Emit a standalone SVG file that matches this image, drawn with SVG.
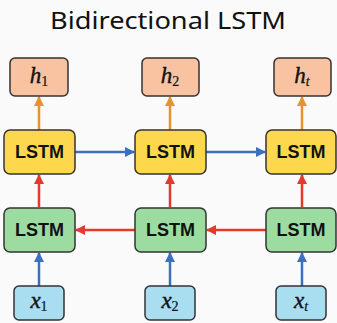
<svg xmlns="http://www.w3.org/2000/svg" width="337" height="323" viewBox="0 0 337 323">
<style>
.out{fill:#F9C3A2;stroke:#333;stroke-width:1.5}
.fw{fill:#FDD84E;stroke:#333;stroke-width:1.5}
.bw{fill:#9CDCA0;stroke:#333;stroke-width:1.5}
.in{fill:#A9DDF0;stroke:#333;stroke-width:1.5}
.lstm{font-family:"Liberation Sans",Arial,sans-serif;font-weight:bold;font-size:18px;fill:#111;text-anchor:middle}
.math{font-family:"Liberation Serif","Times New Roman",serif;font-style:italic;font-size:23px;fill:#111;stroke:#111;stroke-width:0.4;text-anchor:middle}
.sub{font-size:14px;font-style:normal;stroke-width:0.2}
.subi{font-size:14px;font-style:italic;stroke-width:0.2}
.title{font-family:"Noto Sans","Open Sans",sans-serif;font-size:23px;fill:#111;text-anchor:middle}
.ao{stroke:#E8922C;stroke-width:2.5;fill:none}
.ab{stroke:#3B70BE;stroke-width:2.5;fill:none}
.ar{stroke:#E33A2C;stroke-width:2.5;fill:none}
</style>
<defs>
<marker id="mo" viewBox="0 0 10 10" refX="9" refY="5" markerWidth="4" markerHeight="4" orient="auto"><path d="M0,0 L10,5 L0,10 z" fill="#E8922C"/></marker>
<marker id="mb" viewBox="0 0 10 10" refX="9" refY="5" markerWidth="4" markerHeight="4" orient="auto"><path d="M0,0 L10,5 L0,10 z" fill="#3B70BE"/></marker>
<marker id="mr" viewBox="0 0 10 10" refX="9" refY="5" markerWidth="4" markerHeight="4" orient="auto"><path d="M0,0 L10,5 L0,10 z" fill="#E33A2C"/></marker>
</defs>
<rect width="337" height="323" fill="#FAFAFA"/>
<text class="title" x="168" y="29" textLength="236" lengthAdjust="spacingAndGlyphs">Bidirectional LSTM</text>
<g id="connectors">
<line class="ao" x1="39" y1="130" x2="39" y2="97" marker-end="url(#mo)"/>
<line class="ao" x1="170" y1="130" x2="170" y2="97" marker-end="url(#mo)"/>
<line class="ao" x1="302" y1="130" x2="302" y2="97" marker-end="url(#mo)"/>
<line class="ab" x1="75" y1="152" x2="134" y2="152" marker-end="url(#mb)"/>
<line class="ab" x1="206" y1="152" x2="265" y2="152" marker-end="url(#mb)"/>
<line class="ar" x1="39" y1="207" x2="39" y2="175" marker-end="url(#mr)"/>
<line class="ar" x1="170" y1="207" x2="170" y2="175" marker-end="url(#mr)"/>
<line class="ar" x1="302" y1="207" x2="302" y2="175" marker-end="url(#mr)"/>
<line class="ar" x1="135" y1="230" x2="76" y2="230" marker-end="url(#mr)"/>
<line class="ar" x1="266" y1="230" x2="207" y2="230" marker-end="url(#mr)"/>
<line class="ab" x1="39" y1="286" x2="39" y2="253" marker-end="url(#mb)"/>
<line class="ab" x1="170" y1="286" x2="170" y2="253" marker-end="url(#mb)"/>
<line class="ab" x1="302" y1="286" x2="302" y2="253" marker-end="url(#mb)"/>
</g>
<g id="h1"><rect class="out" x="10" y="58" width="58" height="38" rx="5"/><text class="math" x="39" y="83">h<tspan class="sub" dy="3">1</tspan></text></g>
<g id="h2"><rect class="out" x="142" y="58" width="57" height="38" rx="5"/><text class="math" x="170" y="83">h<tspan class="sub" dy="3">2</tspan></text></g>
<g id="ht"><rect class="out" x="274" y="58" width="57" height="38" rx="5"/><text class="math" x="302" y="83">h<tspan class="subi" dy="3">t</tspan></text></g>
<g id="f1"><rect class="fw" x="4" y="130" width="71" height="44" rx="6"/><text class="lstm" x="39.5" y="158">LSTM</text></g>
<g id="f2"><rect class="fw" x="135" y="130" width="71" height="44" rx="6"/><text class="lstm" x="170.5" y="158">LSTM</text></g>
<g id="f3"><rect class="fw" x="266" y="130" width="70" height="44" rx="6"/><text class="lstm" x="301" y="158">LSTM</text></g>
<g id="b1"><rect class="bw" x="4" y="208" width="71" height="44" rx="6"/><text class="lstm" x="39.5" y="236">LSTM</text></g>
<g id="b2"><rect class="bw" x="135" y="208" width="71" height="44" rx="6"/><text class="lstm" x="170.5" y="236">LSTM</text></g>
<g id="b3"><rect class="bw" x="266" y="208" width="70" height="44" rx="6"/><text class="lstm" x="301" y="236">LSTM</text></g>
<g id="x1"><rect class="in" x="14" y="286" width="50" height="34" rx="5"/><text class="math" x="39" y="308">x<tspan class="sub" dy="3">1</tspan></text></g>
<g id="x2"><rect class="in" x="145" y="286" width="50" height="34" rx="5"/><text class="math" x="170" y="308">x<tspan class="sub" dy="3">2</tspan></text></g>
<g id="xt"><rect class="in" x="276" y="286" width="50" height="34" rx="5"/><text class="math" x="301" y="308">x<tspan class="subi" dy="3">t</tspan></text></g>
</svg>
